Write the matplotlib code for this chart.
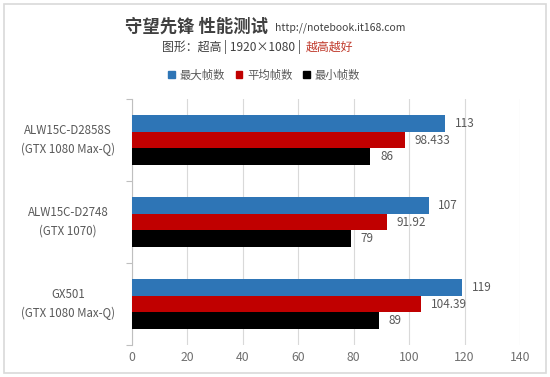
import matplotlib
matplotlib.use('Agg')
import matplotlib.pyplot as plt
import matplotlib.transforms as mtransforms
from matplotlib.patches import Rectangle, Patch
import numpy as np

plt.rcParams['font.family'] = ['Noto Sans CJK SC', 'DejaVu Sans']

# data
models = ['ALW15C-D2858S\n(GTX 1080 Max-Q)', 'ALW15C-D2748\n(GTX 1070)', 'GX501\n(GTX 1080 Max-Q)']
max_fps = [113, 107, 119]
avg_fps = [98.433, 91.92, 104.39]
min_fps = [86, 79, 89]
series_names = ['最大帧数', '平均帧数', '最小帧数']
colors = ['#2e75b6', '#c00000', '#000000']
x_ticks = [0, 20, 40, 60, 80, 100, 120, 140]

W, H = 550, 377
fig = plt.figure(figsize=(W / 100, H / 100), dpi=100)

# light outer frame
fig.patches.append(Rectangle((4 / W, 4 / H), 542 / W, 369 / H, transform=fig.transFigure,
                             fill=False, edgecolor='#d9d9d9', linewidth=1.2))

ax = fig.add_axes([132 / W, 1 - 345 / H, 388 / W, 246 / H])

y = np.arange(len(models))
h = 0.207
for vals, off, col in zip([max_fps, avg_fps, min_fps], [-h, 0, h], colors):
    bars = ax.barh(y + off, vals, height=h, color=col, zorder=3)
    ax.bar_label(bars, labels=[f'{v:g}' for v in vals], padding=7,
                 fontsize=8.5, color='#595959')

ax.set_xlim(0, 140)
ax.set_ylim(len(models) - 0.5, -0.5)
ax.set_xticks(x_ticks)
ax.set_yticks(np.arange(-0.5, len(models), 1))
ax.set_yticklabels([])
ax.tick_params(axis='y', length=4, color='#bfbfbf')
ax.tick_params(axis='x', length=0, labelsize=8.8, labelcolor='#707070', pad=4)
ax.grid(axis='x', color='#d9d9d9', linewidth=0.8, zorder=0)
for s in ['top', 'right', 'bottom']:
    ax.spines[s].set_visible(False)
ax.spines['left'].set_color('#bfbfbf')

# category labels, centred left of the axis
trans = mtransforms.blended_transform_factory(fig.transFigure, ax.transData)
for yi, name in zip(y, models):
    ax.text(68 / W, yi, name, transform=trans, ha='center', va='center',
            fontsize=8.3, color='#595959', linespacing=1.55)

# titles
fig.text(268 / W, 1 - 27 / H, '守望先锋 性能测试', ha='right', va='center',
         fontsize=12.5, fontweight='bold', color='#404040')
fig.text(275 / W, 1 - 28 / H, 'http://notebook.it168.com', ha='left', va='center',
         fontsize=7.5, color='#404040')
fig.text(304 / W, 1 - 47 / H, '图形：超高 | 1920×1080 | ', ha='right', va='center',
         fontsize=8.6, color='#404040')
fig.text(306 / W, 1 - 47 / H, '越高越好', ha='left', va='center',
         fontsize=8.6, color='#c0392b')

handles = [Patch(color=c) for c in colors]
fig.legend(handles, series_names, loc='center', bbox_to_anchor=(264 / W, 1 - 75 / H),
           ncol=3, frameon=False, fontsize=8.2, labelcolor='#595959',
           handlelength=0.6, handleheight=0.6, handletextpad=0.4, columnspacing=0.9)

fig.savefig('out.png', dpi=100)
